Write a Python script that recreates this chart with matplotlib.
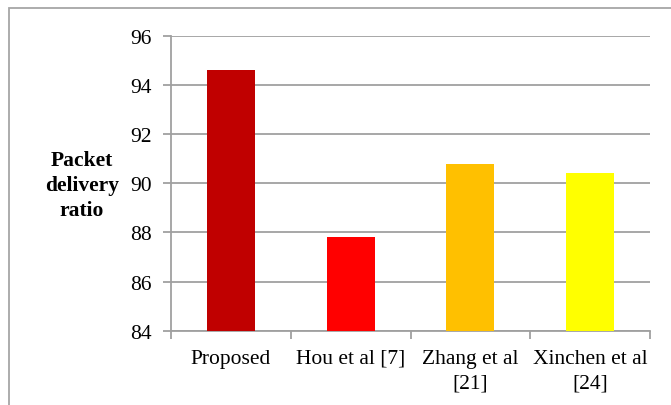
import matplotlib.pyplot as plt
from matplotlib.patches import Rectangle
from matplotlib.ticker import FixedLocator, NullFormatter

plt.rcParams['font.family'] = ['Liberation Serif', 'DejaVu Serif']

# Packet delivery ratio for each method.
methods = ['Proposed', 'Hou et al [7]', 'Zhang et al\n[21]', 'Xinchen et al\n[24]']
delivery = [94.6, 87.8, 90.8, 90.4]
bar_colors = ['#c00000', '#ff0000', '#ffc000', '#ffff00']
y_ticks = [84, 86, 88, 90, 92, 94, 96]

fig = plt.figure(figsize=(6.71, 4.06), dpi=100)
ax = fig.add_axes([171 / 671, 1 - 331.7 / 406, (650 - 171) / 671, (331.7 - 36.7) / 406])

grid_col = '#a0a0a0'
x = range(len(methods))
ax.bar(x, delivery, width=0.4, color=bar_colors, zorder=3)

ax.set_ylim(84, 96)
ax.set_xlim(-0.5, len(methods) - 0.5)
ax.set_yticks(y_ticks)
ax.set_yticklabels([str(t) for t in y_ticks], family='Liberation Serif', fontsize=15.5)
ax.yaxis.grid(True, color=grid_col, linewidth=1.3, zorder=0)
ax.tick_params(axis='y', length=6, width=1.3, color=grid_col, pad=8)

# Category labels centred under bars, ticks at category boundaries.
ax.set_xticks(list(x))
ax.set_xticklabels(methods, family='Liberation Serif', fontsize=15.5, linespacing=1.4)
ax.tick_params(axis='x', which='major', length=0, pad=13)
ax.xaxis.set_minor_locator(FixedLocator([i - 0.5 for i in range(len(methods) + 1)]))
ax.xaxis.set_minor_formatter(NullFormatter())
ax.tick_params(axis='x', which='minor', length=6, width=1.3, color=grid_col)

for side in ['top', 'right']:
    ax.spines[side].set_visible(False)
for side in ['left', 'bottom']:
    ax.spines[side].set_color(grid_col)
    ax.spines[side].set_linewidth(1.3)

fig.text(82 / 671, 1 - 186 / 406, 'Packet\ndelivery\nratio', ha='center', va='center',
         family='Liberation Serif', fontsize=15.5, fontweight='bold', linespacing=1.35)

# Chart area frame.
fig.patches.append(Rectangle((8.5 / 671, -0.1), 1.2, 1 - 8.5 / 406 + 0.1,
                             transform=fig.transFigure, fill=False,
                             edgecolor='#a6a6a6', linewidth=1.3))

fig.savefig('out.png', dpi=100)
